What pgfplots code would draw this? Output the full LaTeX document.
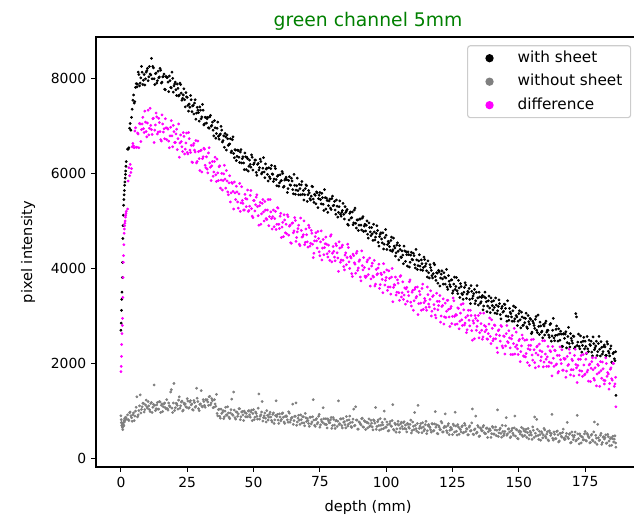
\documentclass[border=0pt]{standalone}
\usepackage{fontspec}
\setmainfont{DejaVu Sans}
\usepackage{pgfplots}
\pgfplotsset{compat=1.18}
\usepackage{pgfplotstable}
\definecolor{mplgreen}{HTML}{008000}
\definecolor{mplgray}{HTML}{808080}
\definecolor{mplmag}{HTML}{FF00FF}
\definecolor{legedge}{HTML}{CCCCCC}
\pgfplotstableread{
x b g d
0.0 2700 900 1830
0.1 2850 820 1940
0.2 3120 760 2150
0.3 3350 700 2400
0.4 3500 740 2630
0.5 3810 680 2800
0.6 4130 650 2950
0.7 4630 610 3390
0.8 4900 700 3810
0.9 5120 720 4130
1.0 5330 760 4270
1.1 5450 690 4500
1.2 5550 800 4740
1.3 5640 770 4830
1.4 5750 840 4900
1.5 5820 800 4950
1.6 5900 860 5000
1.7 5980 820 5080
1.8 6050 870 5120
1.9 6150 830 5160
2.0 6250 850 5200
2.5 6510 920 5250
3.0 6540 800 6120
3.5 7050 980 6190
4.0 7180 860 6100
4.5 7540 920 6630
5.0 7480 800 6540
5.5 7810 1000 6960
6.0 7820 1300 6550
6.5 8130 920 6830
7.0 7840 1110 7050
7.5 8010 960 6670
8.0 8130 1090 7040
8.5 7960 1160 6940
9.0 7860 1030 7310
9.5 8130 1230 6880
10.0 8210 1060 7060
10.5 8030 1110 6810
11.0 8090 990 7370
11.5 8420 1180 6920
12.0 8250 1080 7150
12.5 7990 1550 6650
13.0 8100 1010 7020
13.5 7900 1130 7190
14.0 8150 1040 6870
14.5 8030 1200 7070
15.0 8170 970 6710
15.5 7920 1150 7230
16.0 8040 1090 6870
16.5 7770 1170 6730
17.0 8040 1050 6960
17.5 8020 1050 6950
18.0 7720 1170 6680
18.5 7950 1090 6790
19.0 7800 1450 7110
19.5 8000 970 6560
20.0 7840 1580 6880
20.5 7920 1070 6650
21.0 7640 1160 6930
21.5 7790 1040 6730
22.0 7650 1300 6340
22.5 7870 1110 6810
23.0 7540 1210 6560
23.5 7650 1020 6860
24.0 7550 1140 6410
24.5 7700 1090 6640
25.0 7600 1260 6440
25.5 7310 1060 6860
26.0 7390 1190 6490
26.5 7550 1130 6590
27.0 7420 1030 6230
27.5 7250 1220 6630
28.0 7550 1080 6450
28.5 7270 1480 6220
29.0 7330 1200 6680
29.5 7100 1010 6310
30.0 7330 1150 6480
30.5 7190 1100 6030
31.0 7330 1240 6350
31.5 7040 1120 6510
32.0 7180 1240 6120
32.5 7150 1240 6090
33.0 6960 1120 6430
33.5 7190 1310 6220
34.0 6990 1170 5850
34.5 7080 1220 6250
35.0 6790 1080 6030
35.5 6960 1150 6340
36.0 6840 1350 5830
36.5 7080 900 6010
37.0 6720 1040 6140
37.5 6830 850 5690
38.0 6910 950 6000
38.5 6690 1010 5850
39.0 6550 880 6170
39.5 6770 1080 5690
40.0 6810 910 5840
40.5 6590 960 5550
41.0 6620 840 5950
41.5 6440 1030 5590
42.0 6710 930 5790
42.5 6420 1400 5250
43.0 6500 860 5590
43.5 6270 980 5730
44.0 6490 890 5400
44.5 6340 1050 5570
45.0 6450 820 5200
45.5 6220 980 5720
46.0 6350 920 5370
46.5 6080 1000 5230
47.0 6350 880 5470
47.5 6340 880 5460
48.0 6050 1000 5200
48.5 6280 920 5310
49.0 6130 980 5640
49.5 6340 800 5100
50.0 6190 1030 5430
50.5 6280 870 5210
51.0 6020 950 5500
51.5 6190 830 5300
52.0 6070 1360 4910
52.5 6300 890 5390
53.0 5990 980 5150
53.5 6110 790 5450
54.0 6030 900 5000
54.5 6200 850 5230
55.0 6110 1010 5030
55.5 5840 810 5450
56.0 5930 935 5090
56.5 6100 875 5190
57.0 5990 770 4830
57.5 5830 960 5230
58.0 6150 815 5050
58.5 5870 1215 4820
59.0 5940 930 5280
59.5 5730 740 4930
60.0 5970 875 5100
60.5 5850 825 4650
61.0 6000 960 4970
61.5 5730 770 5130
62.0 5880 890 4750
62.5 5870 885 4730
63.0 5680 765 5090
63.5 5930 955 4890
64.0 5750 815 4540
64.5 5840 865 4950
65.0 5570 720 4750
65.5 5750 890 5070
66.0 5650 1170 4570
66.5 5900 770 4770
67.0 5550 910 4910
67.5 5680 720 4480
68.0 5760 820 4800
68.5 5560 880 4670
69.0 5440 750 5000
69.5 5680 950 4550
70.0 5740 780 4710
70.5 5550 800 4450
71.0 5590 680 4860
71.5 5440 870 4530
72.0 5730 770 4740
72.5 5460 1240 4230
73.0 5560 700 4580
73.5 5360 820 4750
74.0 5590 730 4430
74.5 5470 890 4630
75.0 5600 660 4270
75.5 5360 820 4790
76.0 5490 760 4430
76.5 5220 840 4290
77.0 5490 720 4520
77.5 5480 715 4510
78.0 5180 835 4240
78.5 5420 755 4360
79.0 5270 815 4680
79.5 5470 635 4140
80.0 5320 865 4460
80.5 5410 705 4240
81.0 5140 795 4520
81.5 5310 675 4330
82.0 5180 1215 3940
82.5 5420 735 4430
83.0 5100 835 4180
83.5 5220 645 4490
84.0 5140 765 4040
84.5 5300 715 4280
85.0 5210 885 4080
85.5 4930 685 4510
86.0 5020 815 4140
86.5 5190 755 4250
87.0 5070 655 3890
87.5 4920 830 4300
88.0 5230 690 4120
88.5 4950 1090 3900
89.0 5020 810 4360
89.5 4800 620 4010
90.0 5040 760 4180
90.5 4910 710 3740
91.0 5060 850 4060
91.5 4780 660 4230
92.0 4930 780 3840
92.5 4910 765 3830
93.0 4720 645 4180
93.5 4960 835 3990
94.0 4770 695 3630
94.5 4860 745 4050
95.0 4590 605 3840
95.5 4770 795 4170
96.0 4660 1075 3670
96.5 4900 675 3870
97.0 4550 815 4010
97.5 4670 600 3580
98.0 4750 700 3900
98.5 4540 760 3770
99.0 4410 630 4100
99.5 4650 830 3650
100.0 4700 660 3810
100.5 4500 710 3540
101.0 4540 590 3950
101.5 4380 780 3610
102.0 4660 680 3820
102.5 4390 1135 3300
103.0 4470 595 3660
103.5 4260 715 3820
104.0 4490 625 3500
104.5 4360 785 3690
105.0 4480 555 3330
105.5 4240 735 3850
106.0 4370 675 3490
106.5 4100 755 3350
107.0 4370 635 3590
107.5 4350 620 3570
108.0 4050 740 3310
108.5 4290 660 3430
109.0 4130 720 3760
109.5 4340 540 3210
110.0 4180 770 3540
110.5 4270 610 3320
111.0 4010 700 3600
111.5 4180 580 3410
112.0 4060 1120 3030
112.5 4290 635 3520
113.0 3970 735 3270
113.5 4100 545 3580
114.0 4020 665 3140
114.5 4190 615 3370
115.0 4100 785 3180
115.5 3820 585 3610
116.0 3910 715 3250
116.5 4080 655 3350
117.0 3960 555 3000
117.5 3800 730 3410
118.0 4110 590 3240
118.5 3830 990 3020
119.0 3910 710 3480
119.5 3690 520 3130
120.0 3930 660 3310
120.5 3800 610 2870
121.0 3950 750 3200
121.5 3670 560 3360
122.0 3820 680 2980
122.5 3800 665 2970
123.0 3610 545 3330
123.5 3850 735 3140
124.0 3660 595 2780
124.5 3760 645 3200
125.0 3480 505 2990
125.5 3670 695 3320
126.0 3560 975 2820
126.5 3810 575 3020
127.0 3470 715 3170
127.5 3590 510 2730
128.0 3680 610 3060
128.5 3470 670 2920
129.0 3350 540 3260
129.5 3600 740 2810
130.0 3650 570 2970
130.5 3460 620 2710
131.0 3500 500 3120
131.5 3350 690 2790
132.0 3640 590 3010
132.5 3370 1045 2490
133.0 3470 505 2850
133.5 3260 625 3010
134.0 3500 535 2700
134.5 3380 695 2900
135.0 3500 465 2540
135.5 3270 645 3060
136.0 3390 585 2700
136.5 3130 665 2560
137.0 3400 545 2800
137.5 3380 525 2780
138.0 3090 645 2520
138.5 3320 565 2630
139.0 3170 625 2960
139.5 3380 445 2420
140.0 3220 675 2740
140.5 3320 515 2520
141.0 3060 605 2800
141.5 3230 485 2610
142.0 3110 1025 2230
142.5 3340 540 2710
143.0 3030 640 2470
143.5 3160 450 2780
144.0 3080 570 2330
144.5 3250 520 2570
145.0 3160 690 2370
145.5 2890 490 2800
146.0 2990 620 2440
146.5 3160 560 2540
147.0 3050 460 2190
147.5 2890 635 2590
148.0 3210 495 2420
148.5 2940 895 2200
149.0 3010 615 2660
149.5 2800 425 2310
150.0 3050 565 2480
150.5 2920 515 2040
151.0 3080 655 2370
151.5 2800 465 2530
152.0 2960 585 2150
152.5 2950 565 2140
153.0 2770 445 2500
153.5 3010 635 2310
154.0 2830 495 1960
154.5 2930 545 2380
155.0 2660 405 2180
155.5 2850 595 2510
156.0 2740 875 2020
156.5 2990 475 2220
157.0 2650 615 2370
157.5 2780 405 1940
158.0 2870 505 2270
158.5 2660 565 2140
159.0 2540 435 2480
159.5 2790 635 2030
160.0 2850 465 2200
160.5 2660 515 1940
161.0 2700 395 2360
161.5 2550 585 2030
162.0 2840 485 2250
162.5 2580 930 1740
163.0 2950 390 2110
163.5 2480 510 2280
164.0 2720 420 1970
164.5 2600 580 2170
165.0 2730 350 1830
165.5 2490 530 2350
166.0 2620 470 2000
166.5 2360 550 1860
167.0 2630 430 2110
167.5 2620 410 2100
168.0 2330 530 1840
168.5 2570 450 1960
169.0 2420 510 2300
169.5 2630 330 1760
170.0 2480 560 2090
170.5 2580 400 1870
171.0 2320 490 2170
171.5 3050 370 1980
172.0 2380 910 1600
172.5 2620 420 2090
173.0 2310 520 1850
173.5 2450 330 2170
174.0 2380 450 1730
174.5 2550 400 1970
175.0 2470 570 1780
175.5 2210 370 2220
176.0 2310 500 1860
176.5 2490 440 1970
177.0 2380 340 1620
177.5 2240 510 2040
178.0 2560 370 1870
178.5 2290 770 1650
179.0 2370 490 2120
179.5 2170 300 1780
180.0 2420 440 1960
180.5 2300 390 1520
181.0 2460 530 1850
181.5 2200 340 2030
182.0 2360 460 1650
182.5 2350 440 1640
183.0 2170 320 2000
183.5 2410 510 1810
184.0 2220 370 1460
184.5 2310 420 1880
185.0 2030 280 1680
185.5 2210 470 2010
186.0 2100 410 1520
186.5 2250 330 1710
186.6 1330 240 1090
}\dataA
\pgfplotstableread{
x b g d
2.75 6510 820 5840
3.25 6950 965 5950
3.75 6910 900 6020
4.25 7350 785 6560
4.75 7650 960 6580
5.25 7510 895 6890
5.75 7890 1080 6550
6.25 7880 880 6850
6.75 8080 1010 6540
7.25 7900 1340 7040
7.75 8250 1035 6920
8.25 7870 1165 7180
8.75 8080 980 6860
9.25 7990 1130 7080
9.75 8160 1090 6770
10.25 7950 1200 7330
10.75 8250 1030 6950
11.25 8070 1160 7010
11.75 7990 970 6820
12.25 8220 1140 7160
12.75 7870 1120 6910
13.25 8110 1050 7270
13.75 7950 1180 6830
14.25 8010 1040 7160
14.75 8210 1190 6880
15.25 7900 1120 6680
15.75 8030 990 7040
16.25 8090 1150 6940
16.75 7760 1070 7150
17.25 8020 1240 6710
17.75 7920 1020 6930
18.25 8050 1110 6540
18.75 7810 1400 6970
19.25 8130 1060 6790
19.75 7710 1170 7010
20.25 7880 1010 6650
20.75 7760 1160 6830
21.25 7880 1120 6500
21.75 7630 1230 7040
22.25 7900 1060 6640
22.75 7690 1190 6670
23.25 7580 1000 6460
23.75 7780 1170 6780
24.25 7400 1150 6510
24.75 7610 1080 6850
25.25 7430 1210 6410
25.75 7460 1070 6730
26.25 7640 1220 6440
26.75 7300 1150 6240
27.25 7430 1020 6590
27.75 7480 1180 6490
28.25 7140 1100 6690
28.75 7390 1270 6250
29.25 7280 1050 6460
29.75 7400 1140 6060
30.25 7150 1430 6490
30.75 7450 1090 6310
31.25 7020 1200 6530
31.75 7180 1080 6170
32.25 7060 1230 6350
32.75 7180 1190 6010
33.25 6950 1300 6540
33.75 7220 1130 6130
34.25 7010 1260 6160
34.75 6910 1070 5940
35.25 7110 1240 6250
35.75 6740 1100 5970
36.25 6950 950 6300
36.75 6780 1030 5850
37.25 6810 890 6160
37.75 6990 1040 5860
38.25 6660 970 5650
38.75 6790 840 5990
39.25 6840 1000 5880
39.75 6490 920 6060
40.25 6730 1090 5610
40.75 6610 870 5800
41.25 6730 960 5400
41.75 6470 1250 5810
42.25 6770 910 5620
42.75 6330 1020 5820
43.25 6490 830 5450
43.75 6360 980 5610
44.25 6480 940 5270
44.75 6230 1050 5790
45.25 6500 880 5380
45.75 6310 990 5430
46.25 6220 800 5230
46.75 6430 970 5560
47.25 6080 950 5300
47.75 6310 880 5650
48.25 6150 1010 5220
48.75 6190 870 5540
49.25 6390 1020 5260
49.75 6070 950 5070
50.25 6220 820 5430
50.75 6280 980 5340
51.25 5960 890 5550
51.75 6210 1060 5110
52.25 6120 830 5320
52.75 6250 920 4930
53.25 6020 1200 5370
53.75 6330 860 5190
54.25 5910 960 5410
54.75 6090 770 5050
55.25 5980 910 5230
55.75 6120 870 4900
56.25 5890 975 5450
56.75 6170 805 5050
57.25 5980 930 5090
57.75 5880 740 4880
58.25 6100 905 5200
58.75 5740 885 4930
59.25 5960 810 5270
59.75 5800 940 4840
60.25 5840 795 5160
60.75 6040 945 4870
61.25 5710 870 4670
61.75 5860 740 5020
62.25 5920 900 4930
62.75 5600 815 5130
63.25 5850 985 4700
63.75 5760 765 4910
64.25 5900 855 4530
64.75 5660 1145 4960
65.25 5980 800 4790
65.75 5560 890 5010
66.25 5740 700 4650
66.75 5640 850 4840
67.25 5770 810 4510
67.75 5550 920 5060
68.25 5830 750 4660
68.75 5640 880 4710
69.25 5550 690 4500
69.75 5760 860 4830
70.25 5410 840 4560
70.75 5640 740 4910
71.25 5470 870 4470
71.75 5520 730 4800
72.25 5720 880 4510
72.75 5390 810 4320
73.25 5540 680 4670
73.75 5610 840 4580
74.25 5280 760 4780
74.75 5540 930 4350
75.25 5450 710 4560
75.75 5580 780 4180
76.25 5350 1070 4610
76.75 5660 730 4440
77.25 5250 840 4660
77.75 5430 645 4310
78.25 5320 795 4490
78.75 5460 755 4170
79.25 5240 865 4710
79.75 5520 695 4320
80.25 5330 825 4360
80.75 5230 635 4160
81.25 5440 805 4480
81.75 5080 785 4220
82.25 5300 715 4560
82.75 5140 835 4130
83.25 5180 695 4450
83.75 5370 845 4170
84.25 5040 775 3970
84.75 5180 645 4330
85.25 5240 805 4230
85.75 4910 725 4440
86.25 5160 895 4000
86.75 5060 675 4220
87.25 5190 765 3830
87.75 4960 1040 4270
88.25 5270 700 4090
88.75 4850 810 4320
89.25 5020 620 3960
89.75 4910 770 4150
90.25 5040 730 3820
90.75 4810 840 4370
91.25 5090 670 3970
91.75 4890 800 4020
92.25 4790 610 3810
92.75 5000 765 4140
93.25 4640 745 3870
93.75 4860 675 4220
94.25 4690 805 3780
94.75 4730 665 4110
95.25 4930 815 3820
95.75 4600 745 3630
96.25 4740 615 3980
96.75 4800 775 3890
97.25 4470 695 4090
97.75 4720 840 3660
98.25 4620 620 3870
98.75 4750 710 3490
99.25 4510 1000 3920
99.75 4820 660 3750
100.25 4400 770 3970
100.75 4570 580 3610
101.25 4460 730 3790
101.75 4590 690 3460
102.25 4360 800 4000
102.75 4640 615 3600
103.25 4430 745 3650
103.75 4330 555 3440
104.25 4540 725 3760
104.75 4180 705 3490
105.25 4400 635 3830
105.75 4230 765 3400
106.25 4280 625 3720
106.75 4470 775 3440
107.25 4150 705 3250
107.75 4290 560 3600
108.25 4350 720 3510
108.75 4030 640 3720
109.25 4280 810 3290
109.75 4190 590 3500
110.25 4320 680 3120
110.75 4080 970 3560
111.25 4400 630 3380
111.75 3980 740 3610
112.25 4160 550 3260
112.75 4050 685 3450
113.25 4180 645 3120
113.75 3960 755 3670
114.25 4240 585 3280
114.75 4050 715 3320
115.25 3950 525 3120
115.75 4160 695 3450
116.25 3800 675 3190
116.75 4020 605 3530
117.25 3850 735 3100
117.75 3890 580 3430
118.25 4080 730 3150
118.75 3750 660 2960
119.25 3900 530 3310
119.75 3960 690 3220
120.25 3630 610 3430
120.75 3880 780 3000
121.25 3780 560 3220
121.75 3910 650 2830
122.25 3670 940 3270
122.75 3980 585 3100
123.25 3560 695 3330
123.75 3730 505 2980
124.25 3620 655 3160
124.75 3760 615 2840
125.25 3530 725 3380
125.75 3820 555 2990
126.25 3620 685 3030
126.75 3530 495 2830
127.25 3750 665 3160
127.75 3390 630 2890
128.25 3620 560 3240
128.75 3450 690 2800
129.25 3500 550 3130
129.75 3700 700 2850
130.25 3370 630 2650
130.75 3520 500 3010
131.25 3580 660 2910
131.75 3260 580 3120
132.25 3520 750 2690
132.75 3420 515 2900
133.25 3560 605 2520
133.75 3320 895 2950
134.25 3640 555 2780
134.75 3230 665 3010
135.25 3400 475 2650
135.75 3300 625 2840
136.25 3430 585 2510
136.75 3210 695 3060
137.25 3500 525 2670
137.75 3300 635 2710
138.25 3210 445 2510
138.75 3420 615 2830
139.25 3070 595 2570
139.75 3300 525 2920
140.25 3130 655 2480
140.75 3180 515 2810
141.25 3380 665 2520
141.75 3050 595 2330
142.25 3200 465 2690
142.75 3260 610 2590
143.25 2940 530 2800
143.75 3200 700 2370
144.25 3100 480 2580
144.75 3240 570 2200
145.25 3000 860 2630
145.75 3320 520 2460
146.25 2910 630 2690
146.75 3080 440 2330
147.25 2980 590 2520
147.75 3110 535 2190
148.25 2890 645 2740
148.75 3180 475 2350
149.25 2980 605 2390
149.75 2890 415 2190
150.25 3110 585 2510
150.75 2750 565 2250
151.25 2980 495 2600
151.75 2810 625 2160
152.25 2860 485 2490
152.75 3060 615 2210
153.25 2740 545 2020
153.75 2880 415 2380
154.25 2950 575 2290
154.75 2630 495 2500
155.25 2890 665 2070
155.75 2800 445 2290
156.25 2930 535 1910
156.75 2700 825 2350
157.25 3020 485 2180
157.75 2610 575 2410
158.25 2790 385 2060
158.75 2680 535 2250
159.25 2820 495 1930
159.75 2600 605 2480
160.25 2890 435 2090
160.75 2700 565 2140
161.25 2600 375 1940
161.75 2820 545 2270
162.25 2470 525 2010
162.75 2700 430 2360
163.25 2540 560 1940
163.75 2590 420 2270
164.25 2790 570 1990
164.75 2470 500 1800
165.25 2620 370 2170
165.75 2680 530 2080
166.25 2360 450 2290
166.75 2620 620 1860
167.25 2530 400 2090
167.75 2670 470 1710
168.25 2440 760 2150
168.75 2760 420 1980
169.25 2350 530 2220
169.75 2530 340 1870
170.25 2430 490 2060
170.75 2570 450 1740
171.25 2350 560 2300
171.75 2980 390 1910
172.25 2450 520 1960
172.75 2360 310 1760
173.25 2580 480 2090
173.75 2240 460 1840
174.25 2470 390 2190
174.75 2310 520 1760
175.25 2360 380 2090
175.75 2570 530 1820
176.25 2250 460 1630
176.75 2400 330 1990
177.25 2470 490 1900
177.75 2160 390 2120
178.25 2420 560 1690
178.75 2330 340 1910
179.25 2470 430 1530
179.75 2250 720 1980
180.25 2570 380 1810
180.75 2160 490 2040
181.25 2340 300 1690
181.75 2250 450 1890
182.25 2390 410 1570
182.75 2170 500 2120
183.25 2460 330 1730
183.75 2260 460 1780
184.25 2160 270 1580
184.75 2370 440 1910
185.25 2010 420 1650
185.75 2230 350 2000
186.25 2060 480 1570
}\dataB
\begin{document}
\begin{tikzpicture}
\begin{axis}[
  at={(0pt,0pt)}, anchor=south west,
  scale only axis, width=391.7pt, height=309.6pt,
  xmin=-9.4, xmax=195.7, ymin=-177, ymax=8870,
  xtick={0,25,...,175}, ytick={0,2000,4000,6000,8000},
  xtick pos=left, ytick pos=left,
  tick align=outside, major tick length=3.5pt,
  every tick/.style={black, line width=0.8pt},
  axis line style={line width=0.8pt},
  /pgf/number format/assume math mode=true,
  /pgf/number format/1000 sep={},
  tick label style={font=\fontsize{10}{12}\selectfont, text=black},
  xlabel={depth (mm)}, ylabel={pixel intensity},
  label style={font=\fontsize{10.5}{12.5}\selectfont},
  xlabel style={at={(axis description cs:0.5,-0.093)}, anchor=center},
  ylabel style={at={(axis description cs:-0.125,0.5)}, anchor=center},
  title={green channel 5mm},
  title style={at={(axis description cs:0.5,1)}, anchor=base, yshift=1.4pt, font=\fontsize{13.5}{16}\selectfont, text=mplgreen},
  legend style={at={(rel axis cs:0.682,0.981)}, anchor=north west, draw=legedge, line width=0.8pt, rounded corners=2pt, fill=white, inner xsep=4pt, inner ysep=2pt, row sep=2.9pt, font=\fontsize{11}{13}\selectfont, nodes={inner sep=2pt, text height=8pt, text depth=2pt}},
  legend cell align=left,
]
\addplot[only marks, mark=*, mark size=0.8pt, color=black, mark options={draw=none, fill=black},
  legend image code/.code={\path[draw=none, fill=none] (0pt,-3pt) rectangle (30pt,3pt); \fill[black, draw=none] (11.8pt,0pt) circle (3pt);}]
  table[x=x, y=b] {\dataA};
\addlegendentry{with sheet}
\addplot[forget plot, only marks, mark=*, mark size=0.8pt, color=black, mark options={draw=none, fill=black}]
  table[x=x, y=b] {\dataB};
\addplot[only marks, mark=*, mark size=0.8pt, color=mplgray, mark options={draw=none, fill=mplgray},
  legend image code/.code={\path[draw=none, fill=none] (0pt,-3pt) rectangle (30pt,3pt); \fill[mplgray, draw=none] (11.8pt,0pt) circle (3pt);}]
  table[x=x, y=g] {\dataA};
\addlegendentry{without sheet}
\addplot[forget plot, only marks, mark=*, mark size=0.8pt, color=mplgray, mark options={draw=none, fill=mplgray}]
  table[x=x, y=g] {\dataB};
\addplot[only marks, mark=*, mark size=0.8pt, color=mplmag, mark options={draw=none, fill=mplmag},
  legend image code/.code={\path[draw=none, fill=none] (0pt,-3pt) rectangle (30pt,3pt); \fill[mplmag, draw=none] (11.8pt,0pt) circle (3pt);}]
  table[x=x, y=d] {\dataA};
\addlegendentry{difference}
\addplot[forget plot, only marks, mark=*, mark size=0.8pt, color=mplmag, mark options={draw=none, fill=mplmag}]
  table[x=x, y=d] {\dataB};
\end{axis}
\pgfresetboundingbox
\path[use as bounding box] (-69.12pt,-37.44pt) rectangle (387.36pt,336.24pt);
\end{tikzpicture}
\end{document}
